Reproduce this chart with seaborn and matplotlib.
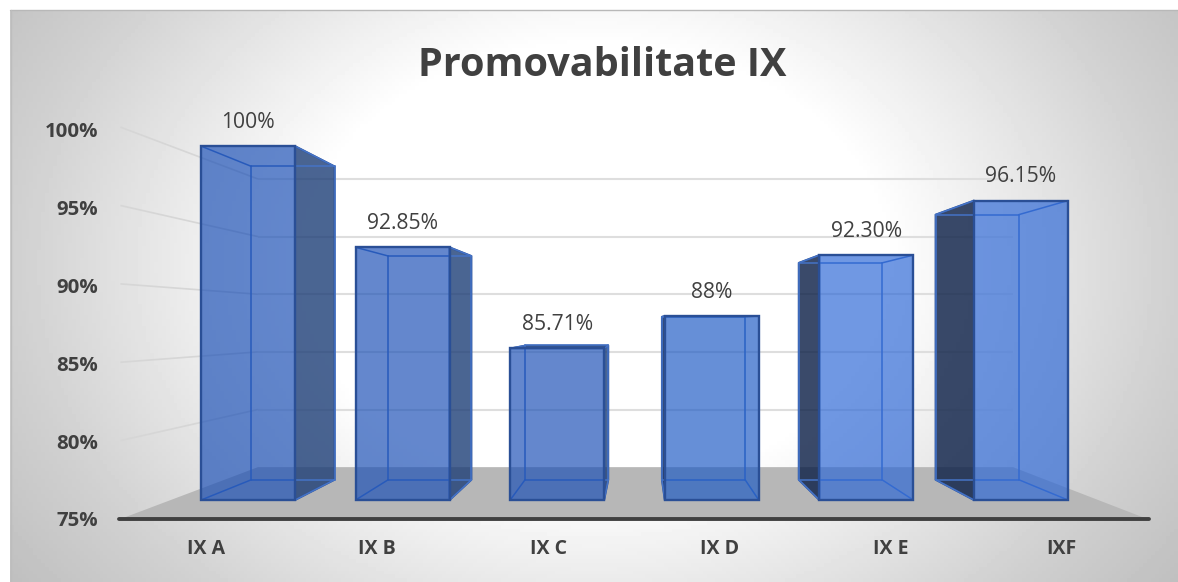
import numpy as np
import pandas as pd
import matplotlib
matplotlib.use("Agg")
import matplotlib.pyplot as plt
from matplotlib.colors import to_rgba
from matplotlib.patches import Polygon, Rectangle
import seaborn as sns

# ---- data ----
categories = ["IX A", "IX B", "IX C", "IX D", "IX E", "IXF"]
bar_tops = [100.0, 92.85, 85.71, 88.0, 92.30, 96.15]
value_labels = ["100%", "92.85%", "85.71%", "88%", "92.30%", "96.15%"]
axis_values = [75, 80, 85, 90, 95, 100]
axis_labels = ["75%", "80%", "85%", "90%", "95%", "100%"]
title_text = "Promovabilitate IX"

# ---- styles ----
W, H, DPI = 1178, 582, 100
FONT = "Open Sans"
TEXT = "#404040"
front_colors = ["#1A4FB6", "#1A4FB6", "#1A4FB6", "#1D5AC4", "#2C67D6", "#2C67D6"]
side_colors = ["#1D3E77", "#1D3E77", "#1D3E77", "#091D45", "#091D45", "#091D45"]
EDGE = "#2A4F96"
INNER = "#4573C6"
FACE_ALPHA = 0.68
BAR_WIDTH = 0.608
BASE = 75.0
VANISH_X, VANISH_Y = 2.535, 87.5
D_WALL_FRONT, D_BAR_BACK, D_WALL_BACK = 1.107, 0.885, 0.814
TICK_STRETCH = 1.0989


def project(x, y, depth):
    """Perspective position of a data point at a relative depth."""
    return VANISH_X + depth * (x - VANISH_X), VANISH_Y + depth * (y - VANISH_Y)


sns.set_theme(style="white")
plt.rcParams["font.family"] = [FONT, "DejaVu Sans"]
fig = plt.figure(figsize=(W / DPI, H / DPI), dpi=DPI, facecolor="white")

# ---- background panel ----
bg = fig.add_axes([10 / W, 0, 1168 / W, 572 / H], zorder=0)
gx, gy = np.meshgrid(np.linspace(0, 1178, 300), np.linspace(0, 582, 150))
radius = np.hypot((gx - 590) / 589, (gy - 260) / 450)
shade = np.interp(radius, [0.0, 0.5, 1.0, 1.25], [255, 255, 208, 190])
bg.imshow(shade, cmap="gray", vmin=0, vmax=255, aspect="auto",
          extent=(10, 1178, 582, 10))
bg.set_axis_off()
fig.add_artist(plt.Line2D([10 / W, 1], [1 - 10 / H] * 2, color="#B8B8B8", lw=1))
fig.add_artist(plt.Line2D([10.5 / W] * 2, [0, 1 - 10 / H], color="#BDBDBD", lw=1))

# ---- main axes: its lower spine is the front floor line ----
ax = fig.add_axes([119 / W, 1 - 519 / H, 1030 / W, 509 / H], zorder=1)
ax.patch.set_alpha(0)

df = pd.DataFrame({"cat": categories, "top": bar_tops})
sns.barplot(data=df, x="cat", y="top", hue="cat", palette=front_colors,
            width=BAR_WIDTH, legend=False, saturation=1, ax=ax)

floor_y = project(0, BASE, D_WALL_FRONT)[1]
ax.set_xlim(-0.834, 5.828)
ax.set_ylim(floor_y, floor_y + 509 / 14.16)

bars = [p for p in ax.patches if isinstance(p, Rectangle)]

# floor
left_x, right_x = -0.5, 5.5
ax.add_patch(Polygon([project(left_x, BASE, D_WALL_FRONT), project(right_x, BASE, D_WALL_FRONT),
                      project(right_x, BASE, D_WALL_BACK), project(left_x, BASE, D_WALL_BACK)],
                     closed=True, fc="#B7B7B7", ec="none", zorder=1))

# back wall gridlines and side wall lines
for v in axis_values[1:]:
    a, b = project(left_x, v, D_WALL_BACK), project(right_x, v, D_WALL_BACK)
    ax.plot([a[0], b[0]], [a[1], b[1]], color="#DEDEDE", lw=1.5, zorder=1.5, solid_capstyle="butt")
    c = project(left_x, v, D_WALL_FRONT)
    ax.plot([c[0], a[0]], [c[1], a[1]], color="#D6D6D6", lw=1.2, zorder=1.5, solid_capstyle="butt")

# bars: front faces come from seaborn, the rest of each box from the same values
for i, (bar, top) in enumerate(zip(bars, bar_tops)):
    bar.set_y(BASE)
    bar.set_height(top - BASE)
    bar.set_facecolor(to_rgba(front_colors[i], FACE_ALPHA))
    bar.set_edgecolor(EDGE)
    bar.set_linewidth(1.7)
    bar.set_zorder(5)

    x0, x1 = bar.get_x(), bar.get_x() + bar.get_width()
    bk = {k: project(px, py, D_BAR_BACK) for k, (px, py) in
          {"lb": (x0, BASE), "lt": (x0, top), "rb": (x1, BASE), "rt": (x1, top)}.items()}
    # outer (dark) side
    sx = x1 if x1 - bar.get_width() / 2 < VANISH_X else x0
    key = "r" if sx == x1 else "l"
    ax.add_patch(Polygon([(sx, BASE), (sx, top), bk[key + "t"], bk[key + "b"]], closed=True,
                         fc=to_rgba(side_colors[i], 0.8), ec=EDGE, lw=1.4, zorder=4,
                         joinstyle="round"))
    # top face, seen only when the bar ends below eye level
    if top < VANISH_Y:
        ax.add_patch(Polygon([(x0, top), (x1, top), bk["rt"], bk["lt"]], closed=True,
                             fc=to_rgba(side_colors[i], 0.85), ec=EDGE, lw=1.2, zorder=4))
    # inner edges of the translucent box
    for p, q in [("lb", "rb"), ("lt", "rt"), ("lb", "lt"), ("rb", "rt")]:
        ax.plot([bk[p][0], bk[q][0]], [bk[p][1], bk[q][1]], color=INNER, lw=1.1, zorder=4.5)
    for px, py, k in [(x0, BASE, "lb"), (x0, top, "lt"), (x1, BASE, "rb"), (x1, top, "rt")]:
        ax.plot([px, bk[k][0]], [py, bk[k][1]], color=INNER, lw=1.1, zorder=4.5)

# value labels
for bar, lab in zip(bars, value_labels):
    ax.annotate(lab, (bar.get_x() + bar.get_width() / 2, bar.get_y() + bar.get_height()),
                xytext=(0, 17), textcoords="offset points", ha="center", va="center",
                fontsize=15.2, color=TEXT, family=[FONT, "DejaVu Sans"], zorder=8)

# category axis
ax.set_xticks([project(i, BASE, D_WALL_FRONT)[0] for i in range(len(categories))])
ax.set_xticklabels(categories, fontsize=14, fontweight="bold", color=TEXT)
ax.set_xlabel("")
ax.tick_params(axis="x", length=0, pad=14.5)

# value axis
ax.set_yticks([floor_y + (v - BASE) * TICK_STRETCH for v in axis_values])
ax.set_yticklabels(axis_labels, fontsize=14.7, fontweight="bold", color=TEXT)
ax.set_ylabel("")
ax.tick_params(axis="y", length=0, pad=15)

for name in ("top", "left", "right"):
    ax.spines[name].set_visible(False)
ax.spines["bottom"].set_color("#404040")
ax.spines["bottom"].set_linewidth(2.8)
ax.spines["bottom"].set_capstyle("round")
ax.spines["bottom"].set_zorder(7)
ax.grid(False)

ax.set_title(title_text, x=(602 - 119) / 1030, y=(519 - 65) / 509, va="center",
             fontsize=28.5, fontweight="bold", color=TEXT, pad=0)

fig.savefig("out.png", dpi=DPI)
